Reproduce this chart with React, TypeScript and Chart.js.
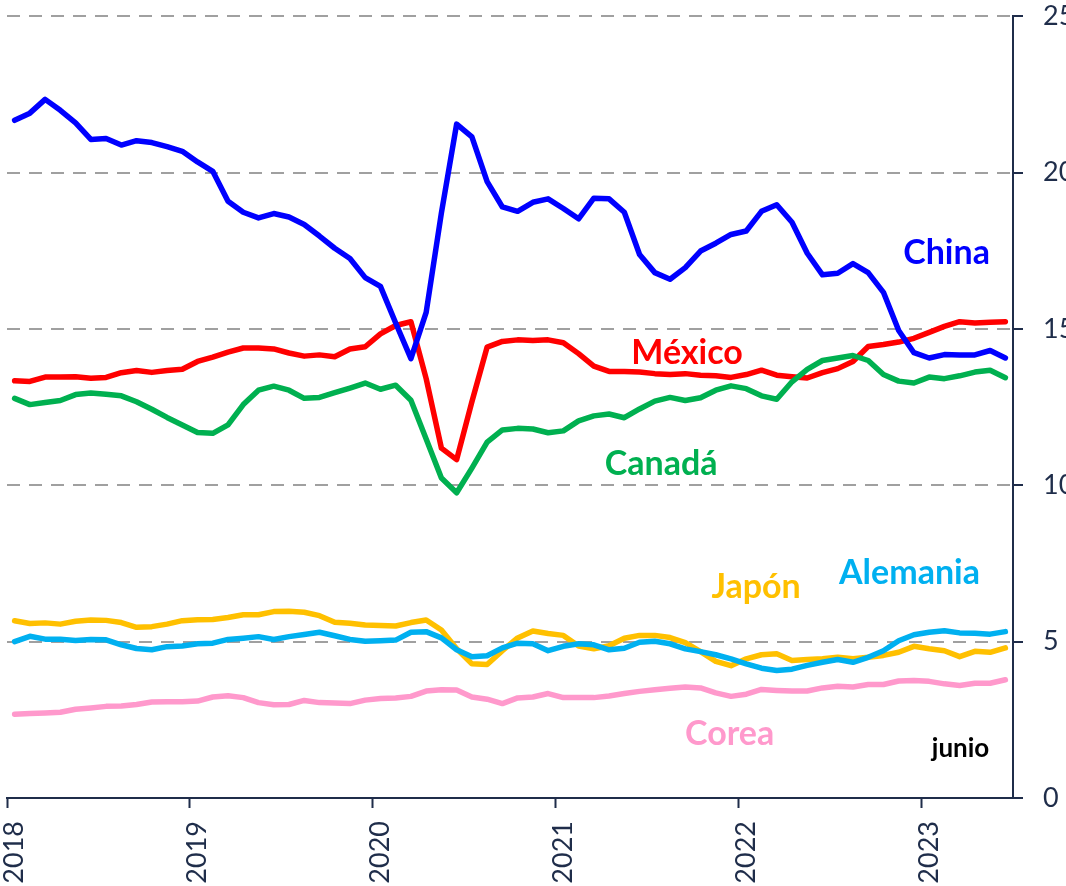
import React, { useEffect, useRef } from 'react';
import { Chart, registerables } from 'chart.js';

Chart.register(...registerables);

// ---------- data ----------
const years = ['2018', '2019', '2020', '2021', '2022', '2023'];
const monthCodes = ['01', '02', '03', '04', '05', '06', '07', '08', '09', '10', '11', '12'];
const monthsInLastYear = 6; // data ends in June 2023

const categories: string[] = [];
years.forEach((yr, yi) => {
  monthCodes.forEach((m, mi) => {
    if (yi < years.length - 1 || mi < monthsInLastYear) categories.push(`${yr}-${m}`);
  });
});

const china = [
  21.67, 21.9, 22.34, 21.99, 21.59, 21.06, 21.09, 20.88, 21.02, 20.96, 20.83, 20.68,
  20.34, 20.04, 19.08, 18.73, 18.55, 18.69, 18.58, 18.34, 17.97, 17.58,
  17.25, 16.64, 16.36, 15.19, 14.05, 15.53, 18.71, 21.55, 21.14, 19.71, 18.9, 18.76,
  19.05, 19.16, 18.85, 18.52, 19.18, 19.16, 18.73, 17.38, 16.8, 16.59,
  16.96, 17.49, 17.74, 18.02, 18.13, 18.76, 18.97, 18.41, 17.42, 16.73, 16.78, 17.09,
  16.8, 16.17, 14.95, 14.24, 14.07, 14.18, 14.17, 14.17, 14.31, 14.07,
];

const mexico = [
  13.34, 13.32, 13.46, 13.46, 13.47, 13.42, 13.45, 13.6, 13.67, 13.61, 13.67, 13.71,
  13.96, 14.1, 14.26, 14.39, 14.39, 14.36, 14.23, 14.13, 14.17, 14.11,
  14.36, 14.43, 14.84, 15.11, 15.23, 13.41, 11.19, 10.82, 12.67, 14.42, 14.6, 14.65,
  14.63, 14.65, 14.56, 14.21, 13.81, 13.64, 13.64, 13.62, 13.57, 13.54,
  13.57, 13.52, 13.5, 13.45, 13.54, 13.68, 13.52, 13.47, 13.43, 13.6, 13.73, 13.96,
  14.44, 14.5, 14.58, 14.7, 14.89, 15.08, 15.23, 15.19, 15.21, 15.23,
];

const canada = [
  12.78, 12.58, 12.65, 12.71, 12.9, 12.95, 12.91, 12.86, 12.67, 12.43, 12.17, 11.93,
  11.69, 11.66, 11.93, 12.58, 13.04, 13.17, 13.04, 12.78, 12.81, 12.96,
  13.11, 13.27, 13.07, 13.2, 12.72, 11.48, 10.23, 9.76, 10.55, 11.38, 11.77, 11.82,
  11.8, 11.68, 11.74, 12.06, 12.22, 12.28, 12.16, 12.44, 12.69, 12.81,
  12.71, 12.8, 13.04, 13.18, 13.09, 12.86, 12.75, 13.31, 13.71, 13.99, 14.07, 14.15,
  13.99, 13.54, 13.33, 13.27, 13.46, 13.41, 13.5, 13.62, 13.68, 13.44,
];

const japan = [
  5.67, 5.58, 5.6, 5.56, 5.65, 5.69, 5.68, 5.61, 5.46, 5.48, 5.56, 5.67,
  5.7, 5.71, 5.77, 5.86, 5.86, 5.96, 5.97, 5.94, 5.83, 5.62,
  5.59, 5.53, 5.52, 5.5, 5.61, 5.69, 5.37, 4.77, 4.29, 4.27, 4.71, 5.12,
  5.34, 5.26, 5.2, 4.86, 4.77, 4.87, 5.11, 5.2, 5.2, 5.13,
  4.97, 4.68, 4.37, 4.23, 4.45, 4.58, 4.61, 4.4, 4.43, 4.45, 4.5, 4.45,
  4.5, 4.56, 4.66, 4.85, 4.77, 4.71, 4.52, 4.69, 4.66, 4.8,
];

const germany = [
  5.0, 5.17, 5.08, 5.08, 5.04, 5.07, 5.06, 4.9, 4.78, 4.74, 4.84, 4.86,
  4.93, 4.95, 5.07, 5.11, 5.16, 5.07, 5.16, 5.23, 5.3, 5.19,
  5.07, 5.01, 5.03, 5.05, 5.3, 5.32, 5.12, 4.74, 4.52, 4.55, 4.8, 4.95,
  4.93, 4.71, 4.85, 4.93, 4.9, 4.74, 4.79, 4.98, 5.01, 4.93,
  4.77, 4.68, 4.58, 4.45, 4.29, 4.15, 4.08, 4.12, 4.24, 4.34, 4.43, 4.34,
  4.5, 4.71, 5.03, 5.22, 5.3, 5.35, 5.28, 5.27, 5.24, 5.32,
];

const korea = [
  2.68, 2.7, 2.72, 2.74, 2.84, 2.88, 2.93, 2.94, 2.99, 3.07, 3.08, 3.08,
  3.1, 3.23, 3.27, 3.21, 3.05, 2.98, 2.99, 3.12, 3.05, 3.04,
  3.02, 3.13, 3.18, 3.2, 3.25, 3.42, 3.46, 3.45, 3.23, 3.16, 3.02, 3.2,
  3.23, 3.34, 3.21, 3.21, 3.21, 3.26, 3.34, 3.41, 3.46, 3.51,
  3.55, 3.52, 3.36, 3.25, 3.32, 3.47, 3.44, 3.42, 3.42, 3.52, 3.57, 3.55,
  3.63, 3.63, 3.74, 3.76, 3.73, 3.65, 3.6, 3.67, 3.67, 3.78,
];

const yTicks = [0, 5, 10, 15, 20, 25];

// series label texts, placed in data coordinates (category index, value)
const labelTexts = ['China', 'México', 'Canadá', 'Japón', 'Alemania', 'Corea', 'junio'];
const labelAtIndex = [61.14, 44.12, 42.42, 48.65, 58.71, 46.91, 62.06];
const labelAtValue = [17.06, 13.87, 10.34, 6.41, 6.84, 1.7, 1.3];

// ---------- styles ----------
const COLORS = {
  china: '#0000FF',
  mexico: '#FF0000',
  canada: '#00B050',
  japan: '#FFC000',
  germany: '#00B0F0',
  korea: '#FF99CC',
  junio: '#000000',
};
const labelColors = [COLORS.china, COLORS.mexico, COLORS.canada, COLORS.japan, COLORS.germany, COLORS.korea, COLORS.junio];
const labelSizes = [34, 34, 34, 34, 34, 34, 26];
const NAVY = '#1F2D4A';
const GRID = '#A0A0A0';
const FONT = 'Lato';

const seriesLabelPlugin = {
  id: 'seriesLabels',
  afterDatasetsDraw(chart: any) {
    const { ctx, scales } = chart;
    const xs = scales.x;
    const ys = scales.y;
    ctx.save();
    ctx.textAlign = 'center';
    ctx.textBaseline = 'alphabetic';
    labelTexts.forEach((t, i) => {
      ctx.font = `bold ${labelSizes[i]}px ${FONT}`;
      ctx.fillStyle = labelColors[i];
      ctx.fillText(t, xs.getPixelForValue(labelAtIndex[i]), ys.getPixelForValue(labelAtValue[i]));
    });
    ctx.restore();
  },
};

export default function App() {
  const canvasRef = useRef<HTMLCanvasElement | null>(null);

  useEffect(() => {
    if (!canvasRef.current) return;
    const line = (label: string, data: number[], color: string) => ({
      label,
      data,
      borderColor: color,
      backgroundColor: color,
      borderWidth: 5.5,
      pointRadius: 0,
      pointHoverRadius: 0,
      tension: 0,
      fill: false,
      borderJoinStyle: 'round' as const,
      borderCapStyle: 'round' as const,
    });

    const chart = new Chart(canvasRef.current, {
      type: 'line',
      data: {
        labels: categories,
        datasets: [
          line('China', china, COLORS.china),
          line('Canadá', canada, COLORS.canada),
          line('México', mexico, COLORS.mexico),
          line('Alemania', germany, COLORS.germany),
          line('Japón', japan, COLORS.japan),
          line('Corea', korea, COLORS.korea),
        ],
      },
      options: {
        animation: false,
        responsive: false,
        devicePixelRatio: 1,
        layout: { padding: { top: 32, left: 7, right: 0, bottom: 0 } },
        plugins: {
          legend: { display: false },
          tooltip: { enabled: false },
        },
        scales: {
          x: {
            type: 'category',
            offset: true,
            grid: {
              offset: true,
              drawOnChartArea: false,
              drawTicks: true,
              tickLength: 10,
              tickWidth: 2,
              tickColor: (c: any) => (typeof c.index === 'number' && c.index % 12 === 0 ? NAVY : 'rgba(0,0,0,0)'),
            },
            border: { display: true, color: NAVY, width: 2 },
            ticks: {
              autoSkip: false,
              maxRotation: 90,
              minRotation: 90,
              padding: 13,
              color: NAVY,
              font: { family: FONT, size: 27 },
              callback: (_v: any, idx: number) => (idx % 12 === 0 ? categories[idx].slice(0, 4) : ''),
            },
            afterFit: (s: any) => {
              s.height = 102;
            },
          },
          y: {
            position: 'right',
            min: yTicks[0],
            max: yTicks[yTicks.length - 1],
            afterBuildTicks: (s: any) => {
              s.ticks = yTicks.map((v) => ({ value: v }));
            },
            grid: {
              color: (c: any) => (c.tick && c.tick.value === 0 ? 'rgba(0,0,0,0)' : GRID),
              lineWidth: 2,
              drawTicks: true,
              tickLength: 10,
              tickWidth: 2,
              tickColor: NAVY,
              tickBorderDash: [],
            },
            border: { display: true, color: NAVY, width: 2, dash: [13, 9] },
            ticks: {
              padding: 20,
              color: NAVY,
              font: { family: FONT, size: 27 },
            },
            afterFit: (s: any) => {
              s.width = 53;
            },
          },
        },
      },
      plugins: [seriesLabelPlugin],
    } as any);

    return () => chart.destroy();
  }, []);

  return (
    <div
      style={{
        position: 'fixed',
        left: 0,
        top: 0,
        width: 1066,
        height: 886,
        overflow: 'hidden',
        background: '#ffffff',
      }}
    >
      <canvas
        ref={canvasRef}
        width={1066}
        height={920}
        style={{ position: 'absolute', left: 0, top: -20, width: 1066, height: 920 }}
      />
    </div>
  );
}
